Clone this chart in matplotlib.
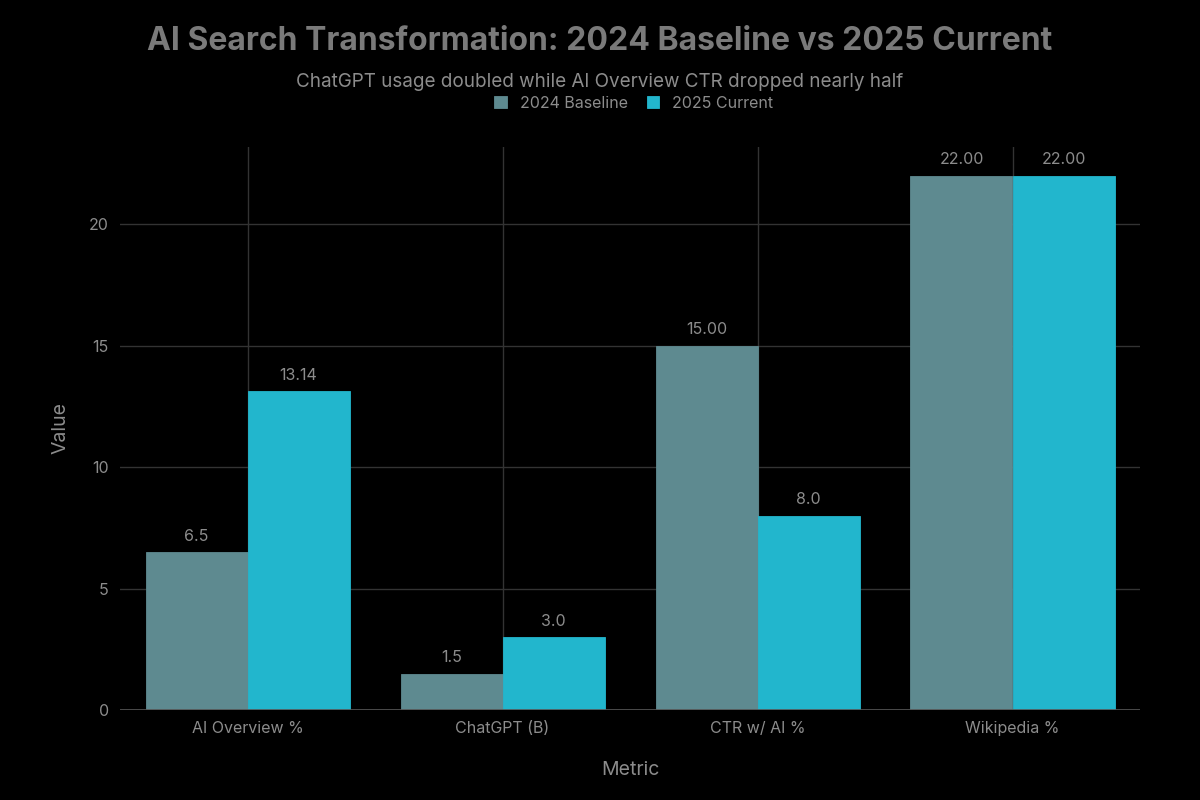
import numpy as np
import matplotlib
matplotlib.use("Agg")
import matplotlib.pyplot as plt

# data
metrics = ["AI Overview %", "ChatGPT (B)", "CTR w/ AI %", "Wikipedia %"]
baseline_2024 = [6.5, 1.5, 15.0, 22.0]
current_2025 = [13.14, 3.0, 8.0, 22.0]
baseline_labels = ["6.5", "1.5", "15.00", "22.00"]
current_labels = ["13.14", "3.0", "8.0", "22.00"]
series_names = ["2024 Baseline", "2025 Current"]

BG = "#000000"
TXT = "#8c8c8c"
GRID = "#333333"
C_BASE = "#5e8a90"
C_CUR = "#22b6cd"

plt.rcParams["font.family"] = ["Inter", "DejaVu Sans"]

fig = plt.figure(figsize=(12, 8), dpi=100, facecolor=BG)
ax = fig.add_axes([0.10, 0.1125, 0.85, 0.704])
ax.set_facecolor(BG)

x = np.arange(len(metrics))
w = 0.4
b1 = ax.bar(x - w / 2, baseline_2024, w, color=C_BASE, label=series_names[0],
            zorder=3, linewidth=0.6, edgecolor=C_BASE)
b2 = ax.bar(x + w / 2, current_2025, w, color=C_CUR, label=series_names[1],
            zorder=3, linewidth=0.6, edgecolor=C_CUR)

for bars, labels in ((b1, baseline_labels), (b2, current_labels)):
    for r, lab in zip(bars, labels):
        ax.text(r.get_x() + r.get_width() / 2, r.get_height() + 0.35, lab,
                ha="center", va="bottom", color=TXT, fontsize=11.5)

ax.set_xlim(-0.5, 3.5)
ax.set_ylim(0, 23.2)
ax.set_xticks(x)
ax.set_xticklabels(metrics)
ax.set_yticks([0, 5, 10, 15, 20])
ax.tick_params(colors=TXT, labelsize=11.5, length=0, pad=8)
ax.grid(True, color=GRID, linewidth=1, zorder=0)
ax.axhline(0, color="#555555", linewidth=1.2, zorder=4)
for s in ax.spines.values():
    s.set_visible(False)

ax.set_xlabel("Metric", color=TXT, fontsize=14, labelpad=18)
ax.set_ylabel("Value", color=TXT, fontsize=14, labelpad=14)

fig.text(0.5, 0.948, "AI Search Transformation: 2024 Baseline vs 2025 Current",
         ha="center", va="center", color="#7a7a7a", fontsize=23, fontweight="bold")
fig.text(0.5, 0.898, "ChatGPT usage doubled while AI Overview CTR dropped nearly half",
         ha="center", va="center", color=TXT, fontsize=13.6)

leg = fig.legend(loc="center", bbox_to_anchor=(0.528, 0.871), ncol=2, frameon=False,
                 fontsize=11.5, handlelength=0.8, handleheight=0.8,
                 handletextpad=0.8, columnspacing=1.2)
for t in leg.get_texts():
    t.set_color(TXT)

fig.savefig("out.png", dpi=100, facecolor=BG)
